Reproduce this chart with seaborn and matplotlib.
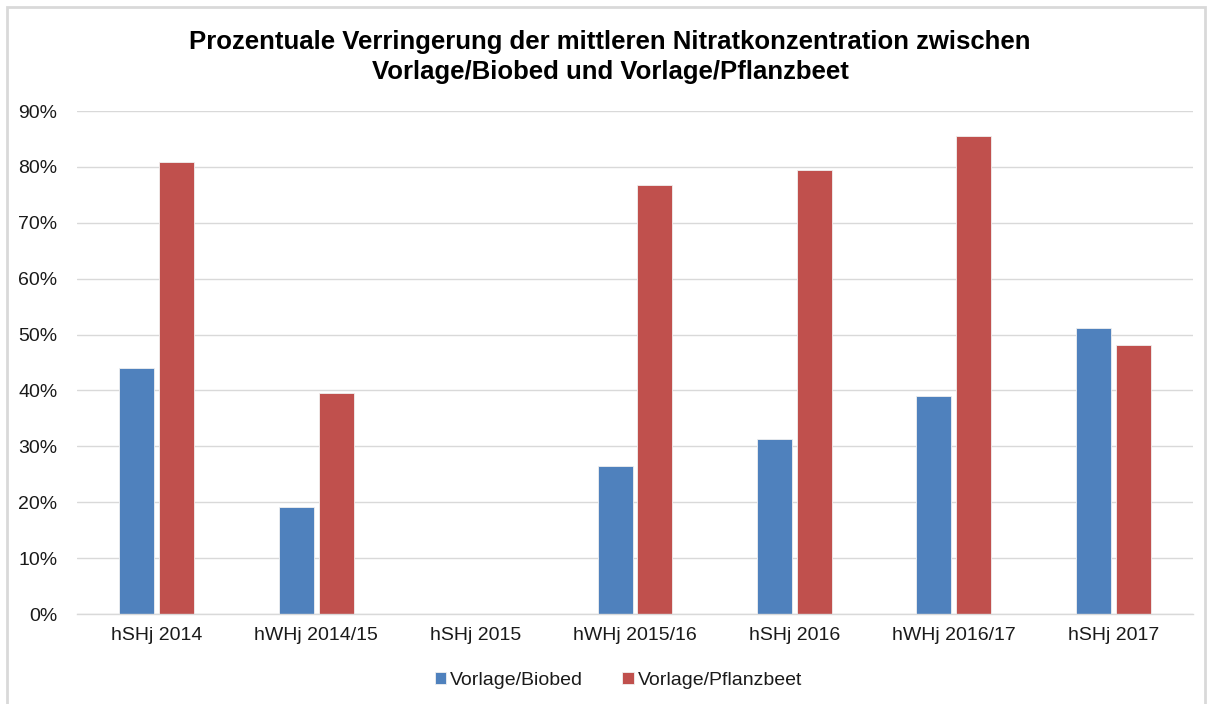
import numpy as np
import pandas as pd
import matplotlib
matplotlib.use("Agg")
import matplotlib.pyplot as plt
import seaborn as sns
from matplotlib.patches import Rectangle
from matplotlib.ticker import PercentFormatter

categories = ["hSHj 2014", "hWHj 2014/15", "hSHj 2015", "hWHj 2015/16",
              "hSHj 2016", "hWHj 2016/17", "hSHj 2017"]
biobed = [44.1, 19.2, np.nan, 26.4, 31.3, 39.0, 51.2]
pflanzbeet = [80.9, 39.5, np.nan, 76.7, 79.4, 85.6, 48.1]
series_names = ["Vorlage/Biobed", "Vorlage/Pflanzbeet"]
colors = ["#4F81BD", "#C0504D"]

df = pd.DataFrame({
    "Kategorie": categories * 2,
    "Wert": biobed + pflanzbeet,
    "Serie": [series_names[0]] * len(categories) + [series_names[1]] * len(categories),
})

sns.set_theme(style="white")
plt.rcParams['font.family'] = ['Liberation Sans', 'DejaVu Sans']

fig = plt.figure(figsize=(12.13, 7.04), dpi=100)
ax = fig.add_axes([0.0635, 0.1278, 0.92, 0.7145])

sns.barplot(data=df, x="Kategorie", y="Wert", hue="Serie", order=categories,
            hue_order=series_names, palette=colors, saturation=1, width=0.5, gap=0.125,
            edgecolor="#f0f0f0", linewidth=0.6, ax=ax, legend=True)

ax.set_ylim(0, 90)
ax.set_yticks(np.arange(0, 91, 10))
ax.yaxis.set_major_formatter(PercentFormatter(decimals=0))
ax.grid(axis="y", color="#d9d9d9", linewidth=1)
ax.set_axisbelow(True)
for s in ["top", "right", "left"]:
    ax.spines[s].set_visible(False)
ax.spines["bottom"].set_color("#d9d9d9")
ax.spines["bottom"].set_linewidth(1)
ax.set_xlabel("")
ax.set_ylabel("")
ax.tick_params(axis="y", labelsize=14, pad=14, length=0)
ax.tick_params(axis="x", labelsize=14, pad=9, length=0)
for lbl in ax.get_xticklabels() + ax.get_yticklabels():
    lbl.set_color("#1a1a1a")

leg = ax.legend(loc="upper center", bbox_to_anchor=(0.485, -0.08), ncol=2, frameon=False,
                fontsize=14, handlelength=0.6, handleheight=0.6, handletextpad=0.2,
                columnspacing=2.0)
for t in leg.get_texts():
    t.set_color("#1a1a1a")

fig.text(0.503, 0.919, "Prozentuale Verringerung der mittleren Nitratkonzentration zwischen\n"
         "Vorlage/Biobed und Vorlage/Pflanzbeet", ha="center", va="center",
         fontsize=18.5, fontweight="bold", linespacing=1.32, color="#000000")

fig.patches.append(Rectangle((7 / 1213, -0.01), 1198 / 1213, 1 - 7 / 704 + 0.01,
                             transform=fig.transFigure, fill=False,
                             edgecolor="#d9d9d9", linewidth=2))

fig.savefig("out.png", dpi=100)
